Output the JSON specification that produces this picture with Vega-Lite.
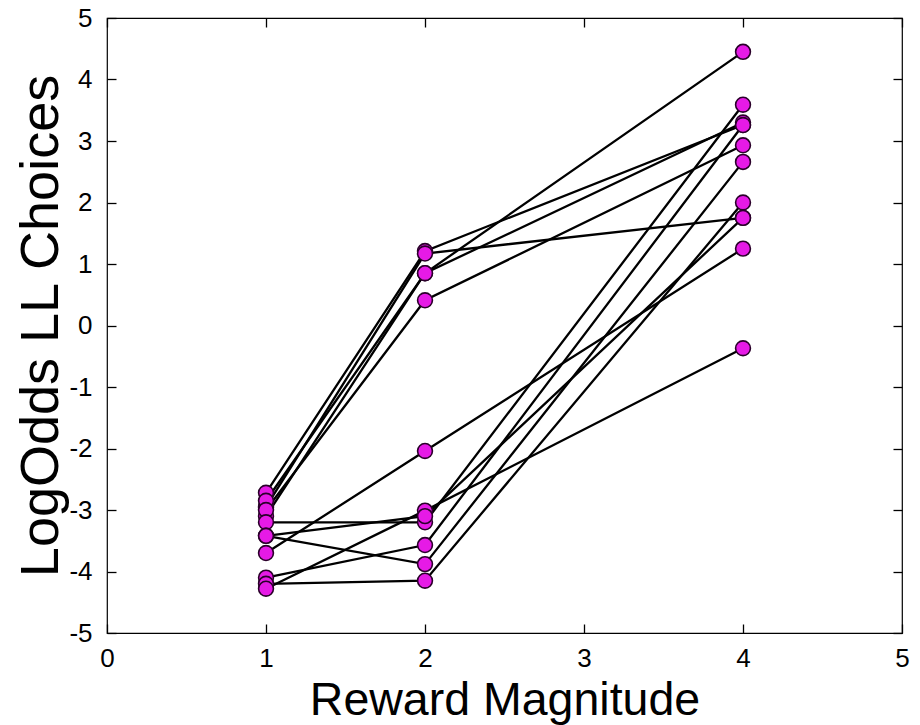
{
  "$schema": "https://vega.github.io/schema/vega-lite/v6.json",
  "width": 795,
  "height": 615,
  "autosize": {"type": "none"},
  "padding": {"left": 107, "top": 18, "right": 18, "bottom": 92},
  "background": "white",
  "config": {
    "view": {"stroke": "black", "strokeWidth": 1.2},
    "font": "Liberation Sans",
    "axis": {
      "grid": false,
      "domain": false,
      "offset": -9,
      "ticks": true,
      "tickSize": 9,
      "tickWidth": 1.3,
      "tickColor": "#000000",
      "tickOpacity": 1,
      "tickDash": [],
      "tickCap": "butt",
      "tickBand": "center",
      "zindex": 2,
      "labelColor": "black",
      "titleColor": "black",
      "labelFont": "Liberation Sans",
      "titleFont": "Liberation Sans",
      "titleFontWeight": "normal",
      "labelFontSize": 26,
      "labelFlush": false,
      "labelOverlap": false
    }
  },
  "data": {
    "values": [
      {"subject": "A", "reward": 1, "logodds": -2.72},
      {"subject": "A", "reward": 2, "logodds": 1.21},
      {"subject": "A", "reward": 4, "logodds": 3.26},
      {"subject": "B", "reward": 1, "logodds": -2.95},
      {"subject": "B", "reward": 2, "logodds": 1.17},
      {"subject": "B", "reward": 4, "logodds": 1.75},
      {"subject": "C", "reward": 1, "logodds": -2.85},
      {"subject": "C", "reward": 2, "logodds": 0.85},
      {"subject": "C", "reward": 4, "logodds": 4.45},
      {"subject": "D", "reward": 1, "logodds": -3.1},
      {"subject": "D", "reward": 2, "logodds": 0.85},
      {"subject": "D", "reward": 4, "logodds": 3.3},
      {"subject": "E", "reward": 1, "logodds": -3.0},
      {"subject": "E", "reward": 2, "logodds": 0.41},
      {"subject": "E", "reward": 4, "logodds": 2.93},
      {"subject": "F", "reward": 1, "logodds": -3.7},
      {"subject": "F", "reward": 2, "logodds": -2.04},
      {"subject": "F", "reward": 4, "logodds": 1.25},
      {"subject": "G", "reward": 1, "logodds": -3.2},
      {"subject": "G", "reward": 2, "logodds": -3.2},
      {"subject": "G", "reward": 4, "logodds": 3.59},
      {"subject": "H", "reward": 1, "logodds": -3.42},
      {"subject": "H", "reward": 2, "logodds": -3.88},
      {"subject": "H", "reward": 4, "logodds": 2.66},
      {"subject": "I", "reward": 1, "logodds": -4.1},
      {"subject": "I", "reward": 2, "logodds": -3.57},
      {"subject": "I", "reward": 4, "logodds": 3.26},
      {"subject": "J", "reward": 1, "logodds": -4.2},
      {"subject": "J", "reward": 2, "logodds": -4.15},
      {"subject": "J", "reward": 4, "logodds": 2.0},
      {"subject": "K", "reward": 1, "logodds": -4.28},
      {"subject": "K", "reward": 2, "logodds": -3.01},
      {"subject": "K", "reward": 4, "logodds": -0.37},
      {"subject": "L", "reward": 1, "logodds": -3.42},
      {"subject": "L", "reward": 2, "logodds": -3.1},
      {"subject": "L", "reward": 4, "logodds": 1.75}
    ]
  },
  "resolve": {"axis": {"x": "independent", "y": "independent"}},
  "layer": [
    {
      "mark": {"type": "line", "color": "black", "strokeWidth": 2.3},
      "encoding": {
        "x": {
          "field": "reward",
          "type": "quantitative",
          "scale": {"domain": [0, 5], "nice": false, "zero": false},
          "axis": {
            "values": [0, 1, 2, 3, 4, 5],
            "labelExpr": "'' + datum.value",
            "title": "Reward Magnitude",
            "titleFontSize": 46.5,
            "labelPadding": 12,
            "titlePadding": 6
          }
        },
        "y": {
          "field": "logodds",
          "type": "quantitative",
          "scale": {"domain": [-5, 5], "nice": false, "zero": false},
          "axis": {
            "values": [-5, -4, -3, -2, -1, 0, 1, 2, 3, 4, 5],
            "labelExpr": "'' + datum.value",
            "title": "LogOdds LL Choices",
            "titleFontSize": 54,
            "labelPadding": 15,
            "titlePadding": 0
          }
        },
        "detail": {"field": "subject"},
        "order": {"field": "reward"}
      }
    },
    {
      "mark": {
        "type": "point",
        "shape": "circle",
        "filled": true,
        "size": 220,
        "fill": "#e61ae6",
        "stroke": "#2a002a",
        "strokeWidth": 1.6,
        "opacity": 1
      },
      "encoding": {
        "x": {
          "field": "reward",
          "type": "quantitative",
          "scale": {"domain": [0, 5], "nice": false, "zero": false},
          "axis": {"orient": "top", "values": [0, 1, 2, 3, 4, 5], "labels": false, "title": null}
        },
        "y": {
          "field": "logodds",
          "type": "quantitative",
          "scale": {"domain": [-5, 5], "nice": false, "zero": false},
          "axis": {"orient": "right", "values": [-5, -4, -3, -2, -1, 0, 1, 2, 3, 4, 5], "labels": false, "title": null}
        }
      }
    }
  ]
}
